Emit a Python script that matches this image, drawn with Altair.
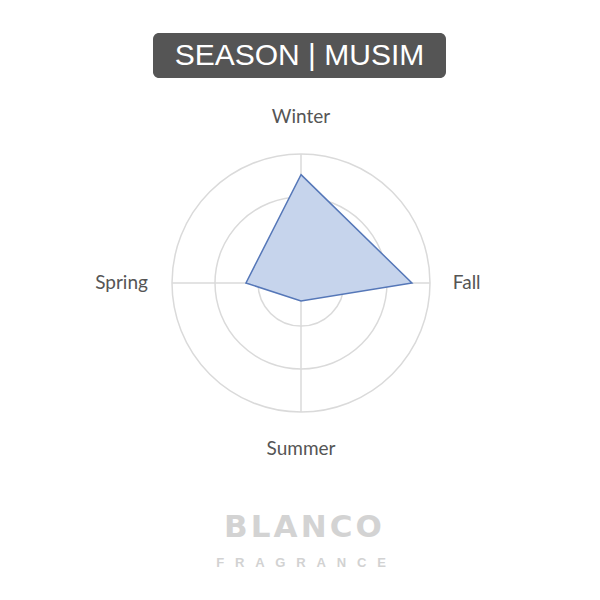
import math
import altair as alt
import pandas as pd

# ---- data ----
seasons = ["Winter", "Fall", "Summer", "Spring"]
season_values = [2.52, 2.58, 0.42, 1.28]
season_index = [0, 1, 2, 3]
ring_levels = [1, 2, 3]
max_level = 3
title_text = "SEASON | MUSIM"
brand_text = "B\u200aL\u200aA\u200aN\u200aC\u200aO"
brand_sub = "F\u00a0\u00a0\u00a0R\u00a0\u00a0\u00a0A\u00a0\u00a0\u00a0G\u00a0\u00a0\u00a0R\u00a0\u00a0\u00a0A\u00a0\u00a0\u00a0N\u00a0\u00a0\u00a0C\u00a0\u00a0\u00a0E"

df = pd.DataFrame({"season": seasons, "value": season_values, "idx": season_index})
rings = pd.DataFrame({"r": ring_levels})

CX, CY, R = 293, 275, 129
xs = alt.Scale(domain=[-max_level, max_level], range=[CX - R, CX + R])
ys = alt.Scale(domain=[-max_level, max_level], range=[CY + R, CY - R])

base = alt.Chart(df).transform_calculate(
    ang="datum.idx * PI / 2",
)

grid = alt.Chart(rings).mark_arc(
    theta=0, theta2=2 * math.pi, fillOpacity=0, stroke="#dadada", strokeWidth=1.5
).encode(
    radius=alt.Radius("r:Q", stack=None,
                      scale=alt.Scale(type="linear", zero=True, domain=[0, max_level], range=[0, R])),
    x=alt.value(CX),
    y=alt.value(CY),
)

spokes = base.transform_calculate(
    x0="0", y0="0",
    x1=f"{max_level} * sin(datum.ang)", y1=f"{max_level} * cos(datum.ang)",
).mark_rule(stroke="#dadada", strokeWidth=1.5).encode(
    x=alt.X("x0:Q", scale=xs, axis=None),
    y=alt.Y("y0:Q", scale=ys, axis=None),
    x2="x1:Q",
    y2="y1:Q",
)

poly = base.transform_calculate(
    px="datum.value * sin(datum.ang)", py="datum.value * cos(datum.ang)",
).mark_line(
    interpolate="linear-closed", filled=True, fill="#c6d4ec", fillOpacity=1,
    stroke="#5577b8", strokeWidth=1.5,
).encode(
    x=alt.X("px:Q", scale=xs, axis=None),
    y=alt.Y("py:Q", scale=ys, axis=None),
    order=alt.Order("idx:Q"),
)

label_font = dict(font="Lato", fontSize=19, color="#555555")

lab_v = base.transform_filter("datum.idx % 2 == 0").transform_calculate(
    lx="3.85 * sin(datum.ang)", ly="3.85 * cos(datum.ang)",
).mark_text(align="center", baseline="middle", **label_font).encode(
    x=alt.X("lx:Q", scale=xs, axis=None), y=alt.Y("ly:Q", scale=ys, axis=None), text="season:N"
)
lab_r = base.transform_filter("datum.idx == 1").transform_calculate(
    lx="3.53 * sin(datum.ang)", ly="3.53 * cos(datum.ang)",
).mark_text(align="left", baseline="middle", **label_font).encode(
    x=alt.X("lx:Q", scale=xs, axis=None), y=alt.Y("ly:Q", scale=ys, axis=None), text="season:N"
)
lab_l = base.transform_filter("datum.idx == 3").transform_calculate(
    lx="3.56 * sin(datum.ang)", ly="3.56 * cos(datum.ang)",
).mark_text(align="right", baseline="middle", **label_font).encode(
    x=alt.X("lx:Q", scale=xs, axis=None), y=alt.Y("ly:Q", scale=ys, axis=None), text="season:N"
)

deco = pd.DataFrame({"t": [title_text]})
title_box = alt.Chart(deco).mark_rect(color="#555555", cornerRadius=6).encode(
    x=alt.value(145), x2=alt.value(438), y=alt.value(25), y2=alt.value(70)
)
title_txt = alt.Chart(deco).mark_text(
    font="Liberation Sans", fontSize=30, color="white", align="center", baseline="middle"
).encode(x=alt.value(291.5), y=alt.value(48), text="t:N")

brand = alt.Chart(pd.DataFrame({"t": [brand_text]})).mark_text(
    font="DejaVu Sans", fontWeight="bold", fontSize=31, color="#d3d3d3", align="center", baseline="middle"
).encode(x=alt.value(295), y=alt.value(520), text="t:N")
brand2 = alt.Chart(pd.DataFrame({"t": [brand_sub]})).mark_text(
    font="Liberation Sans", fontWeight="bold", fontSize=13, color="#d2d2d2", align="center", baseline="middle"
).encode(x=alt.value(293), y=alt.value(555), text="t:N")

chart = alt.layer(
    grid, spokes, poly, lab_v, lab_r, lab_l, title_box, title_txt, brand, brand2
).properties(
    width=584, height=584, padding=0, autosize=alt.AutoSizeParams(type="none"), background="white"
).configure_view(strokeWidth=0)

chart.save("out.html", embed_options={"renderer": "svg", "actions": False})
